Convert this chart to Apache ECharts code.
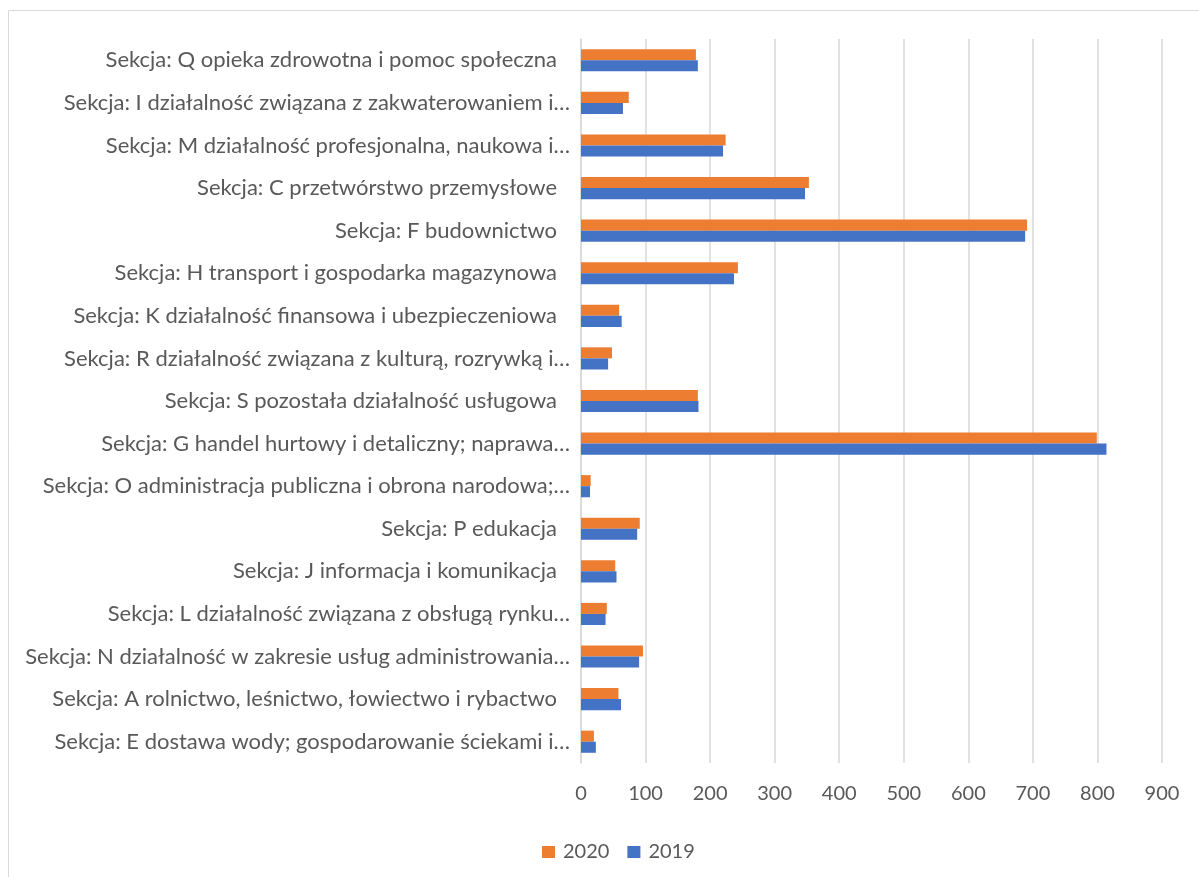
<!DOCTYPE html>
<html>
<head>
<meta charset="utf-8">
<script src="https://cdn.jsdelivr.net/npm/echarts@6/dist/echarts.min.js"></script>
<style>
  html, body { margin: 0; padding: 0; background: #fff; }
  #chart { width: 1199px; height: 877px; }
</style>
</head>
<body>
<div id="chart"></div>
<script>
// Sections, listed top to bottom
const categories = [
  'Sekcja: Q opieka zdrowotna i pomoc społeczna',
  'Sekcja: I działalność związana z zakwaterowaniem i…',
  'Sekcja: M działalność profesjonalna, naukowa i…',
  'Sekcja: C przetwórstwo przemysłowe',
  'Sekcja: F budownictwo',
  'Sekcja: H transport i gospodarka magazynowa',
  'Sekcja: K działalność finansowa i ubezpieczeniowa',
  'Sekcja: R działalność związana z kulturą, rozrywką i…',
  'Sekcja: S pozostała działalność usługowa',
  'Sekcja: G handel hurtowy i detaliczny; naprawa…',
  'Sekcja: O administracja publiczna i obrona narodowa;…',
  'Sekcja: P edukacja',
  'Sekcja: J informacja i komunikacja',
  'Sekcja: L działalność związana z obsługą rynku…',
  'Sekcja: N działalność w zakresie usług administrowania…',
  'Sekcja: A rolnictwo, leśnictwo, łowiectwo i rybactwo',
  'Sekcja: E dostawa wody; gospodarowanie ściekami i…'
];
const values2020 = [178, 74, 224, 353, 691, 243, 59, 48, 181, 799, 15, 91, 53, 40, 96, 58, 20];
const values2019 = [181, 65, 220, 347, 688, 237, 63, 42, 182, 814, 14, 87, 55, 38, 90, 62, 23];
const xTicks = [0, 100, 200, 300, 400, 500, 600, 700, 800, 900];

const FONT = 'Lato, "Open Sans", sans-serif';
const TEXT = '#595959';

const chart = echarts.init(document.getElementById('chart'), null, { renderer: 'canvas' });
chart.setOption({
  backgroundColor: '#fff',
  animation: false,
  textStyle: { fontFamily: FONT, color: TEXT },
  graphic: [{
    type: 'rect',
    shape: { x: 8.5, y: 10.5, width: 1300, height: 1000 },
    style: { fill: 'none', stroke: '#d9d9d9', lineWidth: 1 },
    silent: true
  }],
  grid: { left: 581, right: 37, top: 39, bottom: 114, containLabel: false },
  legend: {
    data: ['2020', '2019'],
    left: 537,
    top: 837,
    itemWidth: 13,
    itemHeight: 12,
    itemGap: 18,
    icon: 'rect',
    textStyle: { fontFamily: FONT, fontSize: 20, color: TEXT, padding: [0, 0, 0, 3] }
  },
  xAxis: {
    type: 'value',
    min: xTicks[0],
    max: xTicks[xTicks.length - 1],
    interval: xTicks[1] - xTicks[0],
    axisLine: { show: false },
    axisTick: { show: false },
    splitLine: { show: true, lineStyle: { color: '#d9d9d9', width: 1.5 } },
    axisLabel: { fontFamily: FONT, fontSize: 20, color: TEXT, margin: 21 }
  },
  yAxis: {
    type: 'category',
    data: categories,
    inverse: true,
    axisLine: { show: true, lineStyle: { color: '#d9d9d9', width: 1.5 } },
    axisTick: { show: false },
    axisLabel: {
      fontFamily: FONT, fontSize: 22, color: TEXT, margin: 11, interval: 0,
      // full (untruncated) names sit a little further from the axis
      formatter: v => v.endsWith('…') ? v : '{full|' + v + '}',
      rich: { full: { fontFamily: FONT, fontSize: 22, color: TEXT, padding: [0, 13, 0, 0] } }
    }
  },
  series: [
    {
      name: '2020', type: 'bar', data: values2020,
      itemStyle: { color: '#ED7D31' },
      barGap: '0%', barCategoryGap: '48%'
    },
    {
      name: '2019', type: 'bar', data: values2019,
      itemStyle: { color: '#4472C4' },
      barGap: '0%', barCategoryGap: '48%'
    }
  ]
});
</script>
</body>
</html>
